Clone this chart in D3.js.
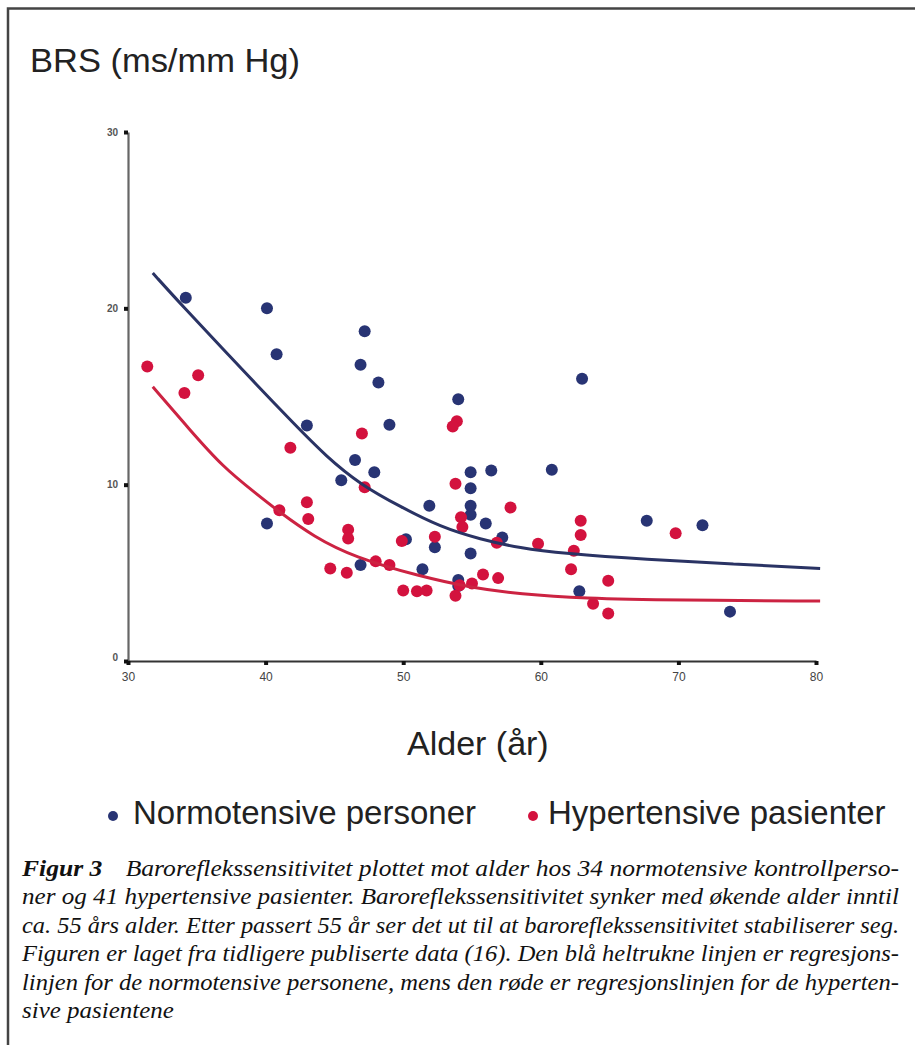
<!DOCTYPE html>
<html>
<head>
<meta charset="utf-8">
<script src="https://cdn.jsdelivr.net/npm/d3@7"></script>
<style>
  body { margin: 0; background: #fff; }
  svg { display: block; }
</style>
</head>
<body>
<svg id="fig" width="915" height="1045"></svg>
<script>
// normotensive (blå) – alder og BRS, lest av figuren
const normAge = [34.2, 40.1, 47.2, 40.8, 46.9, 48.2, 43.0, 49.0, 46.5, 47.9, 45.5, 54.0,
  54.9, 56.4, 54.9, 51.9, 54.9, 54.9, 40.1, 56.0, 50.2, 52.3, 57.2, 54.9, 46.9, 51.4,
  54.0, 54.0, 63.0, 60.8, 67.7, 71.75, 62.8, 73.75]
const normBrs = [20.6, 20.0, 18.7, 17.4, 16.8, 15.8, 13.35, 13.4, 11.4, 10.7, 10.25, 14.85,
  10.7, 10.8, 9.8, 8.8, 8.8, 8.3, 7.8, 7.8, 6.9, 6.45, 7.0, 6.1, 5.45, 5.2,
  4.6, 4.25, 16.0, 10.85, 7.95, 7.7, 3.95, 2.8]

// hypertensive (røde)
const hyperAge = [31.4, 35.1, 34.1, 47.0, 41.8, 53.9, 53.6, 47.2, 53.8, 57.8, 41.0, 43.0,
  43.1, 54.2, 54.3, 46.0, 46.0, 49.9, 52.3, 56.8, 44.7, 45.9, 48.0, 49.0, 50.0, 51.0,
  51.7, 53.8, 55.0, 55.8, 56.9, 62.9, 62.9, 69.8, 59.8, 62.4, 62.2, 64.9, 63.8, 64.9, 54.1]
const hyperBrs = [16.7, 16.2, 15.2, 12.9, 12.1, 13.6, 13.3, 9.85, 10.05, 8.7, 8.55, 9.0,
  8.05, 8.15, 7.6, 7.45, 6.95, 6.8, 7.05, 6.7, 5.25, 5.0, 5.65, 5.45, 4.0, 3.95,
  4.0, 3.7, 4.4, 4.9, 4.7, 7.95, 7.15, 7.25, 6.65, 6.25, 5.2, 4.55, 3.25, 2.7, 4.3]

// regresjonslinjer, punkter lest av kurvene
const normLineAge = [31.8, 34, 36.9, 39.3, 42, 44.4, 46.9, 49.8, 52.7, 55.6, 58.5, 61.6, 67.7, 74, 80.3]
const normLineBrs = [22.0, 20.1, 17.7, 15.7, 13.5, 11.6, 10.0, 8.75, 7.6, 6.9, 6.4, 6.1, 5.75, 5.5, 5.25]
const hyperLineAge = [31.8, 34.5, 36.9, 39.3, 41, 43.5, 46.4, 51.2, 55, 58.5, 63, 70, 80.3]
const hyperLineBrs = [15.55, 13.1, 11.0, 9.5, 8.45, 7.05, 5.9, 4.8, 4.15, 3.8, 3.55, 3.45, 3.4]

const xTicks = [30, 40, 50, 60, 70, 80]
const yTicks = [0, 10, 20, 30]

const captionLines = [
  "Baroreflekssensitivitet plottet mot alder hos 34 normotensive kontrollperso-",
  "ner og 41 hypertensive pasienter. Baroreflekssensitivitet synker med økende alder inntil",
  "ca. 55 års alder. Etter passert 55 år ser det ut til at baroreflekssensitivitet stabiliserer seg.",
  "Figuren er laget fra tidligere publiserte data (16). Den blå heltrukne linjen er regresjons-",
  "linjen for de normotensive personene, mens den røde er regresjonslinjen for de hyperten-",
  "sive pasientene"
]

const blue = "#283474", blueLine = "#2a3364"
const red = "#d3123e", redLine = "#cc2342"

const svg = d3.select("#fig")

// ramme (topp og venstre)
svg.append("path")
  .attr("d", "M8,1045 V8.5 H915")
  .attr("fill", "none")
  .attr("stroke", "#444")
  .attr("stroke-width", 2.5)

const x = d3.scaleLinear().domain([30, 80]).range([128, 816])
const y = d3.scaleLinear().domain([0, 30]).range([661, 132])

// tittel
svg.append("text")
  .attr("x", 30).attr("y", 72)
  .style("font", "33px 'Liberation Sans', Arial, sans-serif")
  .attr("fill", "#222")
  .attr("textLength", 270)
  .attr("lengthAdjust", "spacingAndGlyphs")
  .text("BRS (ms/mm Hg)")

// akser
const yAxis = svg.append("g")
  .attr("transform", `translate(${x(30)},0)`)
  .call(d3.axisLeft(y).tickValues(yTicks).tickSize(4).tickSizeOuter(0).tickPadding(6))
yAxis.select(".domain").attr("stroke", "#666").attr("stroke-width", 2.2)
yAxis.selectAll(".tick line").attr("stroke", "#111").attr("stroke-width", 4)
yAxis.selectAll(".tick text")
  .style("font", "bold 10px 'Liberation Sans', Arial, sans-serif")
  .attr("fill", "#555")
  .attr("dy", d => d === 0 ? "-0.1em" : "0.32em")

const xAxis = svg.append("g")
  .attr("transform", `translate(0,${y(0)})`)
  .call(d3.axisBottom(x).tickValues(xTicks).tickSize(4).tickSizeOuter(0).tickPadding(7))
xAxis.select(".domain").attr("stroke", "#333").attr("stroke-width", 2)
xAxis.selectAll(".tick line").attr("stroke", "#111").attr("stroke-width", 4)
xAxis.selectAll(".tick text")
  .style("font", "12px 'Liberation Sans', Arial, sans-serif")
  .attr("fill", "#444")

// punkter
const normPts = normAge.map((a, i) => [a, normBrs[i]])
const hyperPts = hyperAge.map((a, i) => [a, hyperBrs[i]])

svg.append("g").selectAll("circle")
  .data(normPts)
  .join("circle")
    .attr("cx", d => x(d[0]))
    .attr("cy", d => y(d[1]))
    .attr("r", 6)
    .attr("fill", blue)

svg.append("g").selectAll("circle")
  .data(hyperPts)
  .join("circle")
    .attr("cx", d => x(d[0]))
    .attr("cy", d => y(d[1]))
    .attr("r", 6)
    .attr("fill", red)

// regresjonslinjer
const line = d3.line()
  .x(d => x(d[0]))
  .y(d => y(d[1]))
  .curve(d3.curveBasis)

svg.append("path")
  .datum(normLineAge.map((a, i) => [a, normLineBrs[i]]))
  .attr("d", line)
  .attr("fill", "none")
  .attr("stroke", blueLine)
  .attr("stroke-width", 3)

svg.append("path")
  .datum(hyperLineAge.map((a, i) => [a, hyperLineBrs[i]]))
  .attr("d", line)
  .attr("fill", "none")
  .attr("stroke", redLine)
  .attr("stroke-width", 3)

// x-aksetittel
svg.append("text")
  .attr("x", 407).attr("y", 755)
  .style("font", "34px 'Liberation Sans', Arial, sans-serif")
  .attr("fill", "#222")
  .text("Alder (år)")

// tegnforklaring
const legend = [
  {label: "Normotensive personer", color: blue, cx: 113, tx: 133},
  {label: "Hypertensive pasienter", color: red, cx: 533, tx: 548}
]
const lg = svg.append("g")
lg.selectAll("circle")
  .data(legend)
  .join("circle")
    .attr("cx", d => d.cx).attr("cy", 816)
    .attr("r", 5)
    .attr("fill", d => d.color)
lg.selectAll("text")
  .data(legend)
  .join("text")
    .attr("x", d => d.tx).attr("y", 824)
    .style("font", "33px 'Liberation Sans', Arial, sans-serif")
    .attr("fill", "#222")
    .text(d => d.label)

// figurtekst – smal Times-kursiv, blokkjustert
const cap = svg.append("g")
  .attr("fill", "#111")
  .style("font-family", "Tinos, FreeSerif, serif")
  .style("font-style", "italic")
  .style("font-size", "24px")

const capTexts = captionLines.map((txt, i) => {
  const t = cap.append("text")
    .attr("x", 22)
    .attr("y", 876 + i * 28.4)
  if (i === 0) {
    t.append("tspan").attr("font-weight", "bold").text("Figur 3")
    t.append("tspan").attr("dx", 22).text(txt)
  } else {
    t.text(txt)
  }
  return t
})
const ratios = []
capTexts.forEach((t, i) => {
  const w = t.node().getComputedTextLength()
  if (i < capTexts.length - 1) {
    ratios.push(877 / w)
    t.attr("textLength", 877).attr("lengthAdjust", "spacingAndGlyphs")
  } else {
    t.attr("textLength", w * d3.mean(ratios)).attr("lengthAdjust", "spacingAndGlyphs")
  }
})
</script>
</body>
</html>
